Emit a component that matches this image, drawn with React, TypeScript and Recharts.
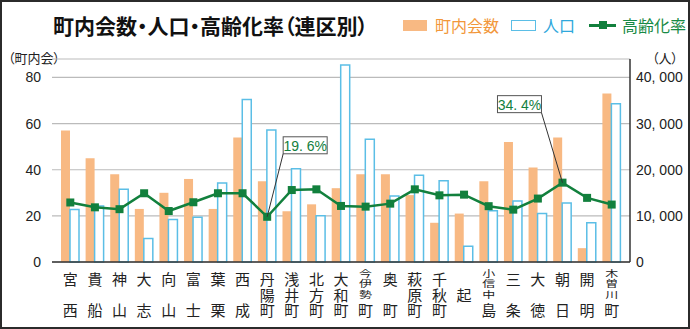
import React from 'react';
import {
  ComposedChart, Bar, Line, XAxis, YAxis, CartesianGrid, LabelList,
} from 'recharts';

// 連区名
const districts = [
  '宮西', '貴船', '神山', '大志', '向山', '富士', '葉栗', '西成', '丹陽町', '浅井町', '北方町', '大和町',
  '今伊勢町', '奥町', '萩原町', '千秋町', '起', '小信中島', '三条', '大徳', '朝日', '開明', '木曽川町',
];
// 町内会数
const councils = [57, 45, 38, 23, 30, 36, 23, 54, 35, 22, 25, 32, 38, 38, 29, 17, 21, 35, 52, 41, 54, 6, 73];
// 人口
const population = [
  11400, 12150, 15750, 5100, 9200, 9700, 17100, 35200, 28600, 20200, 10000, 42700,
  26600, 14300, 18800, 17600, 3400, 11100, 13200, 10500, 12800, 8500, 34300,
];
// 高齢化率 (%)
const agingRate = [
  25.8, 23.7, 22.9, 29.8, 22.1, 25.9, 29.8, 29.8, 19.6, 31.2, 31.5, 24.3,
  24.0, 25.3, 31.5, 28.9, 29.2, 24.2, 22.7, 27.5, 34.4, 27.8, 24.9,
];

const leftTicks = [0, 20, 40, 60, 80];
const rightTicks = [0, 10000, 20000, 30000, 40000];

// 吹き出しをつける連区
const callouts: Record<string, { dx: number; dy: number; corner: 'left' | 'right' }> = {
  丹陽町: { dx: 16, dy: -80, corner: 'left' },
  朝日: { dx: -65, dy: -87, corner: 'right' },
};

const ORANGE = '#F8B983';
const BLUE = '#5BBEE6';
const GREEN = '#12803D';
const FONT = '"Noto Sans CJK JP", "Noto Sans", sans-serif';
const NUM_FONT = '"Liberation Sans", Arial, sans-serif';

const data = districts.map((name, i) => ({
  name,
  councils: councils[i],
  population: population[i],
  rate: agingRate[i],
}));

const fmtPeople = (v: number) => v.toLocaleString('en-US').replace(',', ', ');
const fmtRate = (v: number) => `${v.toFixed(1).replace('.', '. ')}%`;

// 縦書きの連区名（1文字ずつ積む、4文字は上3文字を縦に詰める）
const SQ = 0.7;
const DistrictTick = (props: any) => {
  const { x, y, payload } = props;
  const chars: string[] = Array.from(String(payload.value));
  const rows = [16, 31.5, 47];
  if (chars.length === 4) {
    const head = chars.slice(0, 3);
    return (
      <g>
        <text transform={`translate(${x},${y}) scale(1,${SQ})`} textAnchor="middle" dominantBaseline="central"
          fontFamily={FONT} fill="#222" fontSize={13}>
          {head.map((ch, i) => (
            <tspan key={i} x={0} y={(10.5 + i * 10.5) / SQ}>{ch}</tspan>
          ))}
        </text>
        <text x={x} y={y + rows[2]} textAnchor="middle" dominantBaseline="central"
          fontFamily={FONT} fill="#222" fontSize={15}>{chars[3]}</text>
      </g>
    );
  }
  let pos: number[] = [];
  if (chars.length === 1) pos = [rows[1]];
  else if (chars.length === 2) pos = [rows[0], rows[2]];
  else pos = rows;
  return (
    <text textAnchor="middle" dominantBaseline="central" fontFamily={FONT} fill="#222" fontSize={15}>
      {chars.map((ch, i) => (
        <tspan key={i} x={x} y={y + pos[i]}>{ch}</tspan>
      ))}
    </text>
  );
};

const SquareDot = (props: any) => {
  const { cx, cy } = props;
  if (cx == null || cy == null) return null;
  return <rect x={cx - 4} y={cy - 4} width={8} height={8} fill={GREEN} />;
};

const Callout = (props: any) => {
  const { x, y, value, index } = props;
  const c = callouts[districts[index]];
  if (!c) return null;
  const w = 44;
  const h = 17;
  const bx = x + c.dx;
  const by = y + c.dy;
  const lx = c.corner === 'left' ? bx : bx + w;
  return (
    <g>
      <line x1={lx} y1={by + h} x2={x} y2={y} stroke="#333" strokeWidth={1} />
      <rect x={bx} y={by} width={w} height={h} fill="#fff" stroke="#555" strokeWidth={1} />
      <text x={bx + w / 2} y={by + h / 2 + 0.5} textAnchor="middle" dominantBaseline="central"
        fontSize={14} fontFamily={NUM_FONT} fill={GREEN}>{fmtRate(value)}</text>
    </g>
  );
};

const palt = { fontFeatureSettings: '"palt"' } as React.CSSProperties;

const App: React.FC = () => {
  return (
    <div style={{ position: 'absolute', left: 0, top: 0, width: 690, height: 329, background: '#fff', fontFamily: FONT }}>
      <div style={{ ...palt, position: 'absolute', left: 53, top: 10, fontSize: 21, fontWeight: 700, color: '#111', whiteSpace: 'nowrap' }}>
        町内会数・人口・高齢化率（連区別）
      </div>
      <div style={{ position: 'absolute', left: 403, top: 13, display: 'flex', alignItems: 'center', fontSize: 16, whiteSpace: 'nowrap' }}>
        <span style={{ width: 24, height: 11, background: ORANGE, display: 'inline-block' }} />
        <span style={{ color: '#F2973A', marginLeft: 8 }}>町内会数</span>
        <span style={{ width: 23, height: 9, border: `1.5px solid ${BLUE}`, display: 'inline-block', marginLeft: 12 }} />
        <span style={{ color: '#2FA8DC', marginLeft: 7 }}>人口</span>
        <span style={{ position: 'relative', width: 27, height: 11, display: 'inline-block', marginLeft: 14 }}>
          <span style={{ position: 'absolute', left: 0, top: 4, width: 27, height: 3, background: GREEN }} />
          <span style={{ position: 'absolute', left: 10, top: 1.5, width: 8, height: 8, background: GREEN }} />
        </span>
        <span style={{ color: '#178A45', marginLeft: 6 }}>高齢化率</span>
      </div>
      <div style={{ ...palt, position: 'absolute', left: 8, top: 48, fontSize: 13, color: '#222' }}>（町内会）</div>
      <div style={{ ...palt, position: 'absolute', left: 652, top: 48, fontSize: 13, color: '#222' }}>（人）</div>
      <ComposedChart width={690} height={329} data={data} barGap={0} barSize={9}
        margin={{ top: 59, right: 0, bottom: 0, left: 0 }}>
        <CartesianGrid yAxisId="left" vertical={false} stroke="#BBBBBB" strokeWidth={1.2} />
        <XAxis dataKey="name" interval={0} height={67} tickLine={false} tickSize={0} tickMargin={0}
          axisLine={{ stroke: '#333', strokeWidth: 1.5 }} padding={{ left: 6, right: 6 }} tick={<DistrictTick />} />
        <YAxis yAxisId="left" domain={[0, 88]} ticks={leftTicks} width={52} axisLine={false}
          tickLine={false} tickSize={0} tickMargin={11}
          tick={{ fontSize: 14, fill: '#222', fontFamily: NUM_FONT }} />
        <YAxis yAxisId="right" orientation="right" domain={[0, 44000]} ticks={rightTicks} width={60}
          axisLine={{ stroke: '#333', strokeWidth: 1.5 }} tickLine={false} tickSize={0} tickMargin={6}
          tickFormatter={fmtPeople} tick={{ fontSize: 14, fill: '#222', fontFamily: NUM_FONT, textAnchor: 'start' }} />
        <Bar yAxisId="left" dataKey="councils" fill={ORANGE} isAnimationActive={false} />
        <Bar yAxisId="right" dataKey="population" fill="#fff" stroke={BLUE} strokeWidth={1.5} isAnimationActive={false} />
        <Line yAxisId="left" dataKey="rate" stroke={GREEN} strokeWidth={2.5} dot={<SquareDot />}
          activeDot={false} isAnimationActive={false}>
          <LabelList dataKey="rate" content={<Callout />} />
        </Line>
      </ComposedChart>
      <div style={{ position: 'absolute', left: 0, top: 0, width: 690, height: 329, boxSizing: 'border-box',
        border: '2px solid #2b2b2b', pointerEvents: 'none' }} />
    </div>
  );
};

export default App;
